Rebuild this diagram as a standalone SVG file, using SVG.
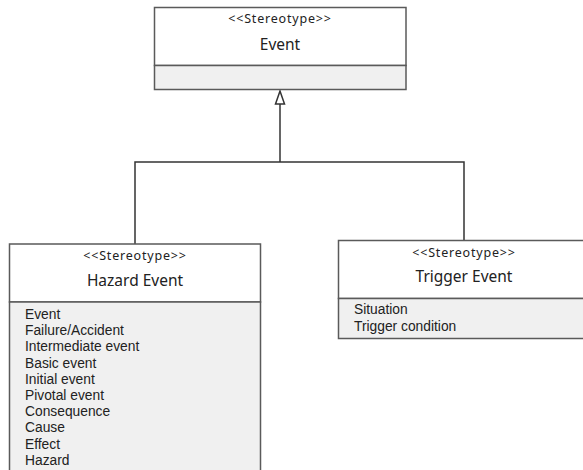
<svg xmlns="http://www.w3.org/2000/svg" width="583" height="470" viewBox="0 0 583 470">
  <style>
    .box { stroke: #5a5a5a; stroke-width: 1.5; }
    .head { fill: #ffffff; }
    .body { fill: #f0f0f0; }
    .st { font-family: "Noto Sans", "Liberation Sans", sans-serif; font-size: 12.5px; letter-spacing: 0.8px; fill: #222; text-anchor: middle; }
    .nm { font-family: "Noto Sans", "Liberation Sans", sans-serif; font-size: 15.5px; fill: #222; text-anchor: middle; }
    .at { font-family: "Liberation Sans", "Noto Sans", sans-serif; font-size: 13.8px; fill: #222; }
    .conn { fill: none; stroke: #333; stroke-width: 1.5; }
  </style>
  <rect width="583" height="470" fill="#ffffff"/>

  <g id="connectors">
    <polyline class="conn" points="135,244 135,162 464,162 464,240"/>
    <line class="conn" x1="280" y1="162" x2="280" y2="104"/>
    <polygon points="280,91 275.5,104 284.5,104" fill="#ffffff" stroke="#333" stroke-width="1.5"/>
  </g>

  <g id="event">
    <rect class="box head" x="154.5" y="7.5" width="251.5" height="58"/>
    <rect class="box body" x="154.5" y="65.5" width="251.5" height="24"/>
    <text class="st" x="280" y="23">&lt;&lt;Stereotype&gt;&gt;</text>
    <text class="nm" x="280" y="50">Event</text>
  </g>

  <g id="hazard-event">
    <rect class="box head" x="9.5" y="244" width="251" height="58"/>
    <rect class="box body" x="9.5" y="302" width="251" height="175"/>
    <text class="st" x="135" y="260">&lt;&lt;Stereotype&gt;&gt;</text>
    <text class="nm" x="135" y="286">Hazard Event</text>
    <text class="at" x="25" y="319">Event</text>
    <text class="at" x="25" y="335.2">Failure/Accident</text>
    <text class="at" x="25" y="351.4">Intermediate event</text>
    <text class="at" x="25" y="367.6">Basic event</text>
    <text class="at" x="25" y="383.8">Initial event</text>
    <text class="at" x="25" y="400">Pivotal event</text>
    <text class="at" x="25" y="416.2">Consequence</text>
    <text class="at" x="25" y="432.4">Cause</text>
    <text class="at" x="25" y="448.6">Effect</text>
    <text class="at" x="25" y="464.8">Hazard</text>
  </g>

  <g id="trigger-event">
    <rect class="box head" x="338.5" y="240.5" width="260" height="58"/>
    <rect class="box body" x="338.5" y="298.5" width="260" height="40"/>
    <text class="st" x="464" y="257">&lt;&lt;Stereotype&gt;&gt;</text>
    <text class="nm" x="464" y="282">Trigger Event</text>
    <text class="at" x="354" y="314">Situation</text>
    <text class="at" x="354" y="330.5">Trigger condition</text>
  </g>
</svg>
